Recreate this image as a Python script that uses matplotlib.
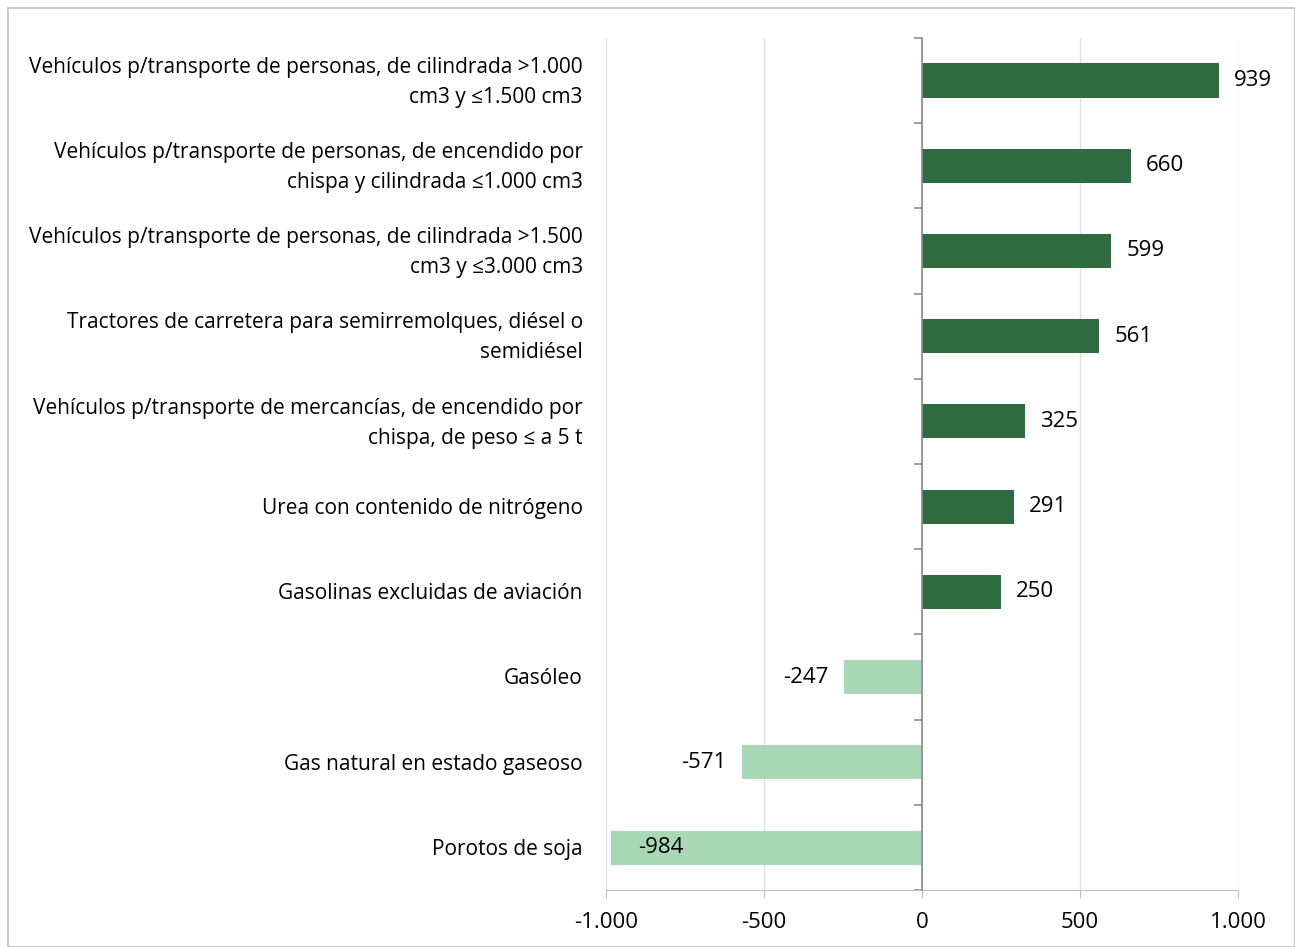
import matplotlib.pyplot as plt
import matplotlib.transforms as mtransforms
from matplotlib.patches import Rectangle

plt.rcParams['font.family'] = ['Open Sans', 'DejaVu Sans']

# datos
categorias = [
    "Vehículos p/transporte de personas, de cilindrada >1.000\ncm3 y ≤1.500 cm3",
    "Vehículos p/transporte de personas, de encendido por\nchispa y cilindrada ≤1.000 cm3",
    "Vehículos p/transporte de personas, de cilindrada >1.500\ncm3 y ≤3.000 cm3",
    "Tractores de carretera para semirremolques, diésel o\nsemidiésel",
    "Vehículos p/transporte de mercancías, de encendido por\nchispa, de peso ≤ a 5 t",
    "Urea con contenido de nitrógeno",
    "Gasolinas excluidas de aviación",
    "Gasóleo",
    "Gas natural en estado gaseoso",
    "Porotos de soja",
]
valores = [939, 660, 599, 561, 325, 291, 250, -247, -571, -984]
xticks = [-1000, -500, 0, 500, 1000]
xtick_labels = ["-1.000", "-500", "0", "500", "1.000"]

verde_osc = "#2E6B40"
verde_cla = "#A9D8B6"
fs_cat = 15
fs_num = 16

fig = plt.figure(figsize=(12.95, 9.47), dpi=100)
ax = fig.add_axes([0.468, 0.060, 0.488, 0.900])

# borde del grafico
fig.patches.append(Rectangle((0.006, 0.0), 0.994, 0.992, transform=fig.transFigure,
                             fill=False, edgecolor="#BFBFBF", linewidth=1.2))

n = len(categorias)
ypos = list(range(n))
colores = [verde_osc if v > 0 else verde_cla for v in valores]
ax.barh(ypos, valores, height=0.4, color=colores, zorder=3)

ax.set_xlim(-1000, 1000)
ax.set_ylim(n - 0.5, -0.5)

ax.set_xticks(xticks)
ax.set_xticklabels(xtick_labels, fontsize=fs_num)
ax.grid(axis="x", color="#E3E3E3", linewidth=1, zorder=0)
ax.tick_params(axis="x", length=6, color="#BFBFBF", pad=10, labelcolor="black")

ax.spines["top"].set_visible(False)
ax.spines["right"].set_visible(False)
ax.spines["bottom"].set_color("#BFBFBF")
ax.spines["left"].set_position(("data", 0))
ax.spines["left"].set_color("#8C8C8C")
ax.spines["left"].set_linewidth(1.2)
ax.spines["left"].set_zorder(4)

# marcas entre categorias
ax.set_yticks([i - 0.5 for i in range(n + 1)])
ax.set_yticklabels([])
ax.tick_params(axis="y", length=6, color="#8C8C8C", width=1.2)

# etiquetas de categorias
trans = mtransforms.blended_transform_factory(ax.transAxes, ax.transData)
for i, cat in enumerate(categorias):
    ax.text(-0.037, i + 0.02, cat, transform=trans, ha="right", va="center",
            fontsize=fs_cat, linespacing=1.55)

# etiquetas de valores
for i, v in enumerate(valores):
    if v > 0:
        ax.text(v + 48, i, f"{v}", ha="left", va="center", fontsize=fs_num)
    elif v < -900:
        ax.text(v + 85, i, f"{v}", ha="left", va="center", fontsize=fs_num, zorder=5)
    else:
        ax.text(v - 48, i, f"{v}", ha="right", va="center", fontsize=fs_num)

fig.savefig("out.png", dpi=100)
